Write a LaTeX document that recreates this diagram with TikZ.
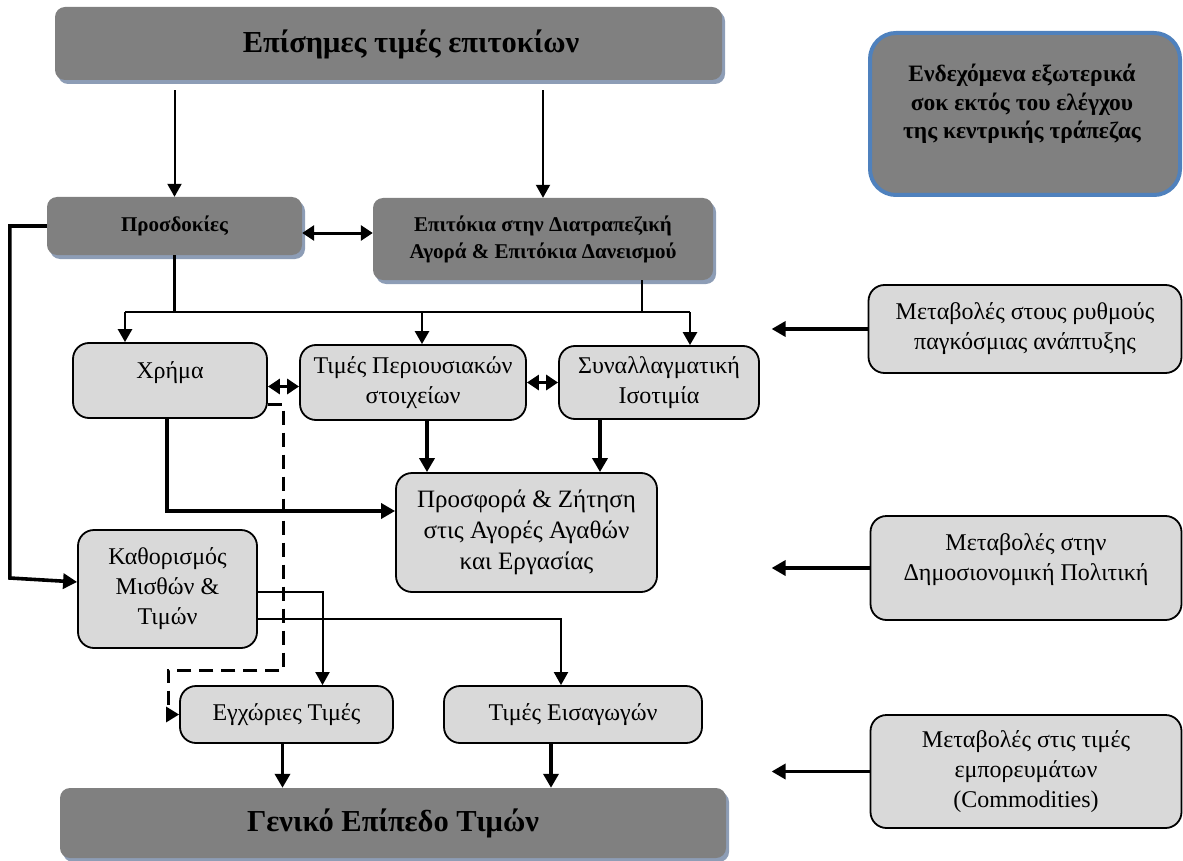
\documentclass[tikz,border=0pt]{standalone}
\usepackage{fontspec}
\setmainfont{Liberation Serif}
\usetikzlibrary{arrows.meta,shadows,calc}
\definecolor{boxdark}{HTML}{808080}
\definecolor{boxlight}{HTML}{D9D9D9}
\definecolor{shadowblue}{HTML}{8D9DB6}
\definecolor{frameblue}{HTML}{4F81BD}
\begin{document}
\begin{tikzpicture}[x=1pt, y=-1pt,
  darkbox/.style = {rectangle, rounded corners=10pt, fill=boxdark, inner sep=0pt, align=center,
    drop shadow={shadow xshift=3pt, shadow yshift=-4pt, fill=shadowblue, opacity=1}},
  lightbox/.style = {draw, rectangle, rounded corners=16pt, fill=boxlight, line width=1.8pt, inner sep=0pt, align=center,
    font=\fontsize{24}{30}\selectfont},
  shockbox/.style = {draw=frameblue, rectangle, rounded corners=26pt, fill=boxdark, line width=4pt},
  bigbold/.style = {font=\fontsize{30.5}{35}\selectfont\bfseries},
  smallbold/.style = {font=\fontsize{21}{27}\selectfont\bfseries},
  shockbold/.style = {align=center, inner sep=0pt, font=\fontsize{23.5}{28.5}\selectfont\bfseries},
  plaintext/.style = {align=center, inner sep=0pt, font=\fontsize{24}{30}\selectfont},
  thinarrow/.style = {line width=2pt, -{Triangle[length=13pt,width=14pt]}},
  boldarrow/.style = {line width=3.6pt, -{Triangle[length=14pt,width=15pt]}},
  twoway/.style = {line width=3pt, {Triangle[length=12pt,width=15pt]}-{Triangle[length=12pt,width=15pt]}},
  dashline/.style = {line width=3pt, dash pattern=on 14pt off 8pt, -{Triangle[length=13pt,width=15pt]}}]

    \useasboundingbox (0,0) rectangle (1183,861);

    \node[darkbox, minimum width=667pt, minimum height=73pt] (rates) at (388.5,43.5) {};
    \node[bigbold] (ratestext) at (411,44) {Επίσημες τιμές επιτοκίων};

    \node[shockbox, minimum width=310pt, minimum height=162pt] (shocks) at (1025,114) {};
    \node[shockbold] (shockstext) at (1022,104) {Ενδεχόμενα εξωτερικά\\σοκ εκτός του ελέγχου\\της κεντρικής τράπεζας};

    \node[darkbox, smallbold, minimum width=255pt, minimum height=58pt] (expect) at (174.5,226) {Προσδοκίες};
    \node[darkbox, smallbold, minimum width=340pt, minimum height=82pt] (lending) at (543,239) {Επιτόκια στην Διατραπεζική\\Αγορά \& Επιτόκια Δανεισμού};

    \node[lightbox, minimum width=194pt, minimum height=75pt] (money) at (170,380.5) {};
    \node[plaintext] (moneytext) at (170,373) {Χρήμα};
    \node[lightbox, minimum width=226pt, minimum height=75pt] (assets) at (413,382.5) {Τιμές Περιουσιακών\\στοιχείων};
    \node[lightbox, minimum width=200pt, minimum height=73pt] (fx) at (659,382.5) {Συναλλαγματική\\Ισοτιμία};

    \node[lightbox, minimum width=261pt, minimum height=119pt, font=\fontsize{25}{31}\selectfont] (supply) at (526.5,532.5) {Προσφορά \& Ζήτηση\\στις Αγορές Αγαθών\\και Εργασίας};
    \node[lightbox, minimum width=179pt, minimum height=118pt] (wages) at (167.5,589) {Καθορισμός\\Μισθών \&\\Τιμών};

    \node[lightbox, minimum width=213pt, minimum height=57pt] (domestic) at (286.5,714.5) {Εγχώριες Τιμές};
    \node[lightbox, minimum width=258pt, minimum height=57pt] (imports) at (573,714.5) {Τιμές Εισαγωγών};

    \node[darkbox, bigbold, minimum width=666pt, minimum height=70pt] (level) at (393,823) {Γενικό Επίπεδο Τιμών};

    \node[lightbox, minimum width=313pt, minimum height=88pt] (growth) at (1025,329) {Μεταβολές στους ρυθμούς\\παγκόσμιας ανάπτυξης};
    \node[lightbox, minimum width=311pt, minimum height=104pt] (fiscal) at (1026,568) {};
    \node[plaintext] (fiscaltext) at (1026,560) {Μεταβολές στην\\Δημοσιονομική Πολιτική};
    \node[lightbox, minimum width=311pt, minimum height=113pt] (commod) at (1026,771.5) {Μεταβολές στις τιμές\\εμπορευμάτων\\(Commodities)};

    \coordinate (busL) at (125,312);
    \coordinate (busR) at (690,312);

    \draw [thinarrow, shorten <=10pt] (rates.south -| expect.north) -- (expect.north);
    \draw [thinarrow, shorten <=10pt] (rates.south -| lending.north) -- (lending.north);
    \draw [twoway] ($(expect.east)+(0,7)$) -- ($(expect.east -| lending.west)+(0,7)$);

    \draw [line width=2.6pt] (busL) -- (busR);
    \draw [line width=2.6pt] (expect.south) -- (expect.south |- busL);
    \draw [line width=2.6pt] ($(lending.south)+(99,0)$) -- ($(lending.south |- busL)+(99,0)$);
    \draw [thinarrow, line width=2.6pt] (busL) -- (busL |- money.north);
    \draw [thinarrow, line width=2.6pt] ($(assets.north |- busL)+(9,0)$) -- ($(assets.north)+(9,0)$);
    \draw [thinarrow, line width=2.6pt] (busR) -- (busR |- fx.north);

    \draw [twoway] ($(money.east)+(0,6)$) -- ($(money.east -| assets.west)+(0,6)$);
    \draw [twoway] (assets.east) -- (assets.east -| fx.west);

    \draw [boldarrow] ($(assets.south)+(14,0)$) -- ($(assets.south |- supply.north)+(14,0)$);
    \draw [boldarrow] ($(fx.south)+(-59,0)$) -- ($(fx.south |- supply.north)+(-59,0)$);
    \draw [boldarrow] ($(money.south)+(-3,0)$) |- ($(supply.west)+(0,-21.5)$);

    \draw [boldarrow] (expect.west) -- ++(-37,0) -- ++(0,352) -- ($(wages.west)+(0,-7)$);
    \draw [thinarrow] ($(wages.east)+(0,3)$) -| ($(domestic.north)+(36,0)$);
    \draw [thinarrow] ($(wages.east)+(0,30)$) -| ($(imports.north)+(-12,0)$);
    \draw [dashline] ($(money.east)+(0,24)$) -- ++(16,0) |- (168,670) |- (domestic.west);

    \draw [boldarrow] ($(domestic.south)+(-4,0)$) -- ($(domestic.south |- level.north)+(-4,0)$);
    \draw [boldarrow] ($(imports.south)+(-22,0)$) -- ($(imports.south |- level.north)+(-22,0)$);

    \draw [boldarrow] (growth.west) -- ++(-96,0);
    \draw [boldarrow] (fiscal.west) -- ++(-98,0);
    \draw [boldarrow] (commod.west) -- ++(-98,0);

\end{tikzpicture}
\end{document}
